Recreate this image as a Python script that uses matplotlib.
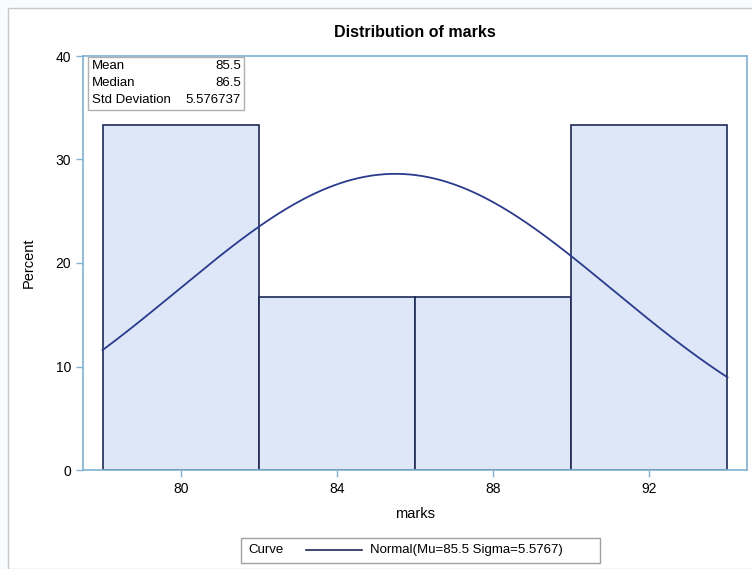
import numpy as np
import matplotlib
matplotlib.use("Agg")
import matplotlib.pyplot as plt
from matplotlib.patches import Rectangle

bin_edges = [78, 82, 86, 90, 94]
percents = [33.333, 16.667, 16.667, 33.333]
mu = 85.5
sigma = 5.576737
median = 86.5
xticks = [80, 84, 88, 92]
yticks = [0, 10, 20, 30, 40]

plt.rcParams['font.family'] = ['Liberation Sans', 'DejaVu Sans']

fig = plt.figure(figsize=(7.52, 5.69), dpi=100)
fig.patch.set_facecolor('#f9fbfd')
fig.patches.append(Rectangle((8/752, 0), 1, 1 - 8/569, transform=fig.transFigure,
                             facecolor='white', edgecolor='#c8c8c8', lw=1, zorder=-1))

ax = fig.add_axes([83/752, (569-470)/569, (747-83)/752, (470-56)/569])
frame_col = '#7fb2d0'
for s in ax.spines.values():
    s.set_color(frame_col)
    s.set_linewidth(1.2)

widths = np.diff(bin_edges)
ax.bar(bin_edges[:-1], percents, width=widths, align='edge',
       facecolor='#dde7f8', edgecolor='#1c2a55', linewidth=1.2)

xs = np.linspace(bin_edges[0], bin_edges[-1], 300)
ys = 100 * widths[0] * np.exp(-0.5 * ((xs - mu) / sigma) ** 2) / (sigma * np.sqrt(2 * np.pi))
ax.plot(xs, ys, color='#2a3a8c', lw=1.3)

ax.set_xlim(77.5, 94.5)
ax.set_ylim(0, 40)
ax.set_xticks(xticks)
ax.set_yticks(yticks)
ax.tick_params(axis='both', color=frame_col, labelsize=10, length=5, width=1)
ax.set_xlabel('marks', fontsize=10.5, labelpad=8)
ax.set_ylabel('Percent', fontsize=10.5, labelpad=14)
ax.set_title('Distribution of marks', fontsize=11.5, fontweight='bold', pad=14)

# stats inset box
ax.add_patch(Rectangle((88/752, 1 - 110/569), (244-88)/752, (110-57)/569,
                       transform=fig.transFigure, facecolor='white',
                       edgecolor='#b0b0b0', lw=1, zorder=5))
labels = ['Mean', 'Median', 'Std Deviation']
vals = ['85.5', '86.5', '5.576737']
for i, (l, v) in enumerate(zip(labels, vals)):
    yy = 1 - (66 + i * 17) / 569
    fig.text(92/752, yy, l, fontsize=9.5, va='center', ha='left', zorder=6)
    fig.text(241/752, yy, v, fontsize=9.5, va='center', ha='right', zorder=6)

# legend box
fig.patches.append(Rectangle((241/752, 1 - 563/569), (600-241)/752, (563-538)/569,
                             transform=fig.transFigure, facecolor='white',
                             edgecolor='#a0a0a0', lw=1))
ly = 1 - 550/569
fig.text(248/752, ly, 'Curve', fontsize=9.5, va='center')
fig.lines.append(plt.Line2D([306/752, 362/752], [ly, ly], transform=fig.transFigure,
                            color='#1c2a55', lw=1.2))
fig.text(370/752, ly, f'Normal(Mu={mu} Sigma={sigma:.4f})', fontsize=9.5, va='center')

fig.savefig('out.png', dpi=100, facecolor=fig.get_facecolor())
